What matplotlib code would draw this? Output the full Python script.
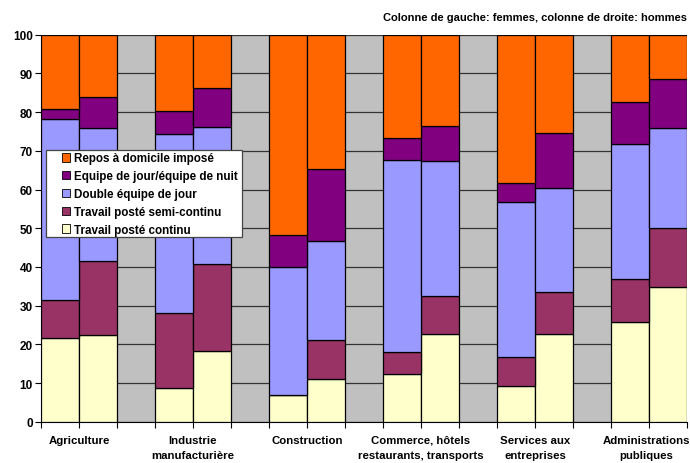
import matplotlib.pyplot as plt
from matplotlib.patches import Patch, Rectangle

plt.rcParams['font.family'] = ['Liberation Sans', 'DejaVu Sans']
plt.rcParams['font.weight'] = 'bold'

secteurs = ['Agriculture', 'Industrie\nmanufacturière', 'Construction',
            'Commerce, hôtels\nrestaurants, transports', 'Services aux\nentreprises',
            'Administrations\npubliques']

# pour chaque secteur: femmes puis hommes
continu = [21.6, 22.5, 8.7, 18.3, 6.8, 11.0, 12.3, 22.6, 9.3, 22.6, 25.7, 34.9]
semi_continu = [9.8, 19.1, 19.5, 22.5, 0.0, 10.2, 5.7, 10.0, 7.3, 10.9, 11.3, 15.1]
double_jour = [46.7, 34.4, 46.1, 35.4, 33.2, 25.4, 49.7, 34.8, 40.1, 26.8, 34.7, 25.8]
jour_nuit = [2.7, 7.9, 5.9, 10.0, 8.2, 18.6, 5.7, 9.0, 5.1, 14.3, 10.8, 12.7]
repos = [100 - a - b - c - d for a, b, c, d in zip(continu, semi_continu, double_jour, jour_nuit)]

series = [
    ('Travail posté continu', continu, '#FFFFCC'),
    ('Travail posté semi-continu', semi_continu, '#993366'),
    ('Double équipe de jour', double_jour, '#9999FF'),
    ('Equipe de jour/équipe de nuit', jour_nuit, '#800080'),
    ('Repos à domicile imposé', repos, '#FF6600'),
]

# positions: 2 colonnes par secteur + une colonne vide
xpos = []
for g in range(len(secteurs)):
    xpos += [3 * g, 3 * g + 1]

fig = plt.figure(figsize=(6.9, 4.64), dpi=100)
ax = fig.add_axes([0.0594, 0.089, 0.9363, 0.834])
ax.set_facecolor('#C0C0C0')

bottom = [0] * len(xpos)
for nom, vals, col in series:
    ax.bar(xpos, vals, width=1.0, bottom=bottom, color=col, edgecolor='black',
           linewidth=0.9, zorder=3)
    bottom = [b + v for b, v in zip(bottom, vals)]

ax.set_xlim(-0.5, 16.5)
ax.set_ylim(0, 100)
ax.set_yticks(range(0, 101, 10))
ax.yaxis.grid(True, color='#333333', linewidth=0.9, zorder=0)
ax.set_axisbelow(True)

ax.set_xticks([x - 0.5 for x in range(18)])
ax.set_xticklabels([])
ax.tick_params(axis='x', length=4, width=0.8, direction='out')
ax.tick_params(axis='y', length=4, width=0.8, labelsize=8.5, pad=2)
for s in ['top', 'right']:
    ax.spines[s].set_visible(False)

for g, nom in enumerate(secteurs):
    xc = 3 * g + 0.5
    if g == len(secteurs) - 1:
        xc -= 0.08
    ax.text(xc, -3.4, nom, ha='center', va='top', fontsize=8.2,
            fontweight='bold', linespacing=1.6)

# cadre de la légende
ax.add_patch(Rectangle((0.0077, 0.478), 0.303, 0.224, transform=ax.transAxes,
                       facecolor='white', edgecolor='#444444', linewidth=0.9,
                       zorder=5))
handles = [Patch(facecolor=c, edgecolor='black', linewidth=0.6, label=n)
           for n, v, c in series[::-1]]
leg = ax.legend(handles=handles, loc='upper left', bbox_to_anchor=(0.032, 0.696),
                fontsize=8.4, frameon=False, handlelength=0.75,
                handleheight=0.75, handletextpad=0.35, borderpad=0,
                borderaxespad=0, labelspacing=0.5)
leg.set_zorder(6)

fig.text(0.996, 0.962, 'Colonne de gauche: femmes, colonne de droite: hommes',
         ha='right', va='center', fontsize=8.0, fontweight='bold')

fig.savefig('out.png', dpi=100)
